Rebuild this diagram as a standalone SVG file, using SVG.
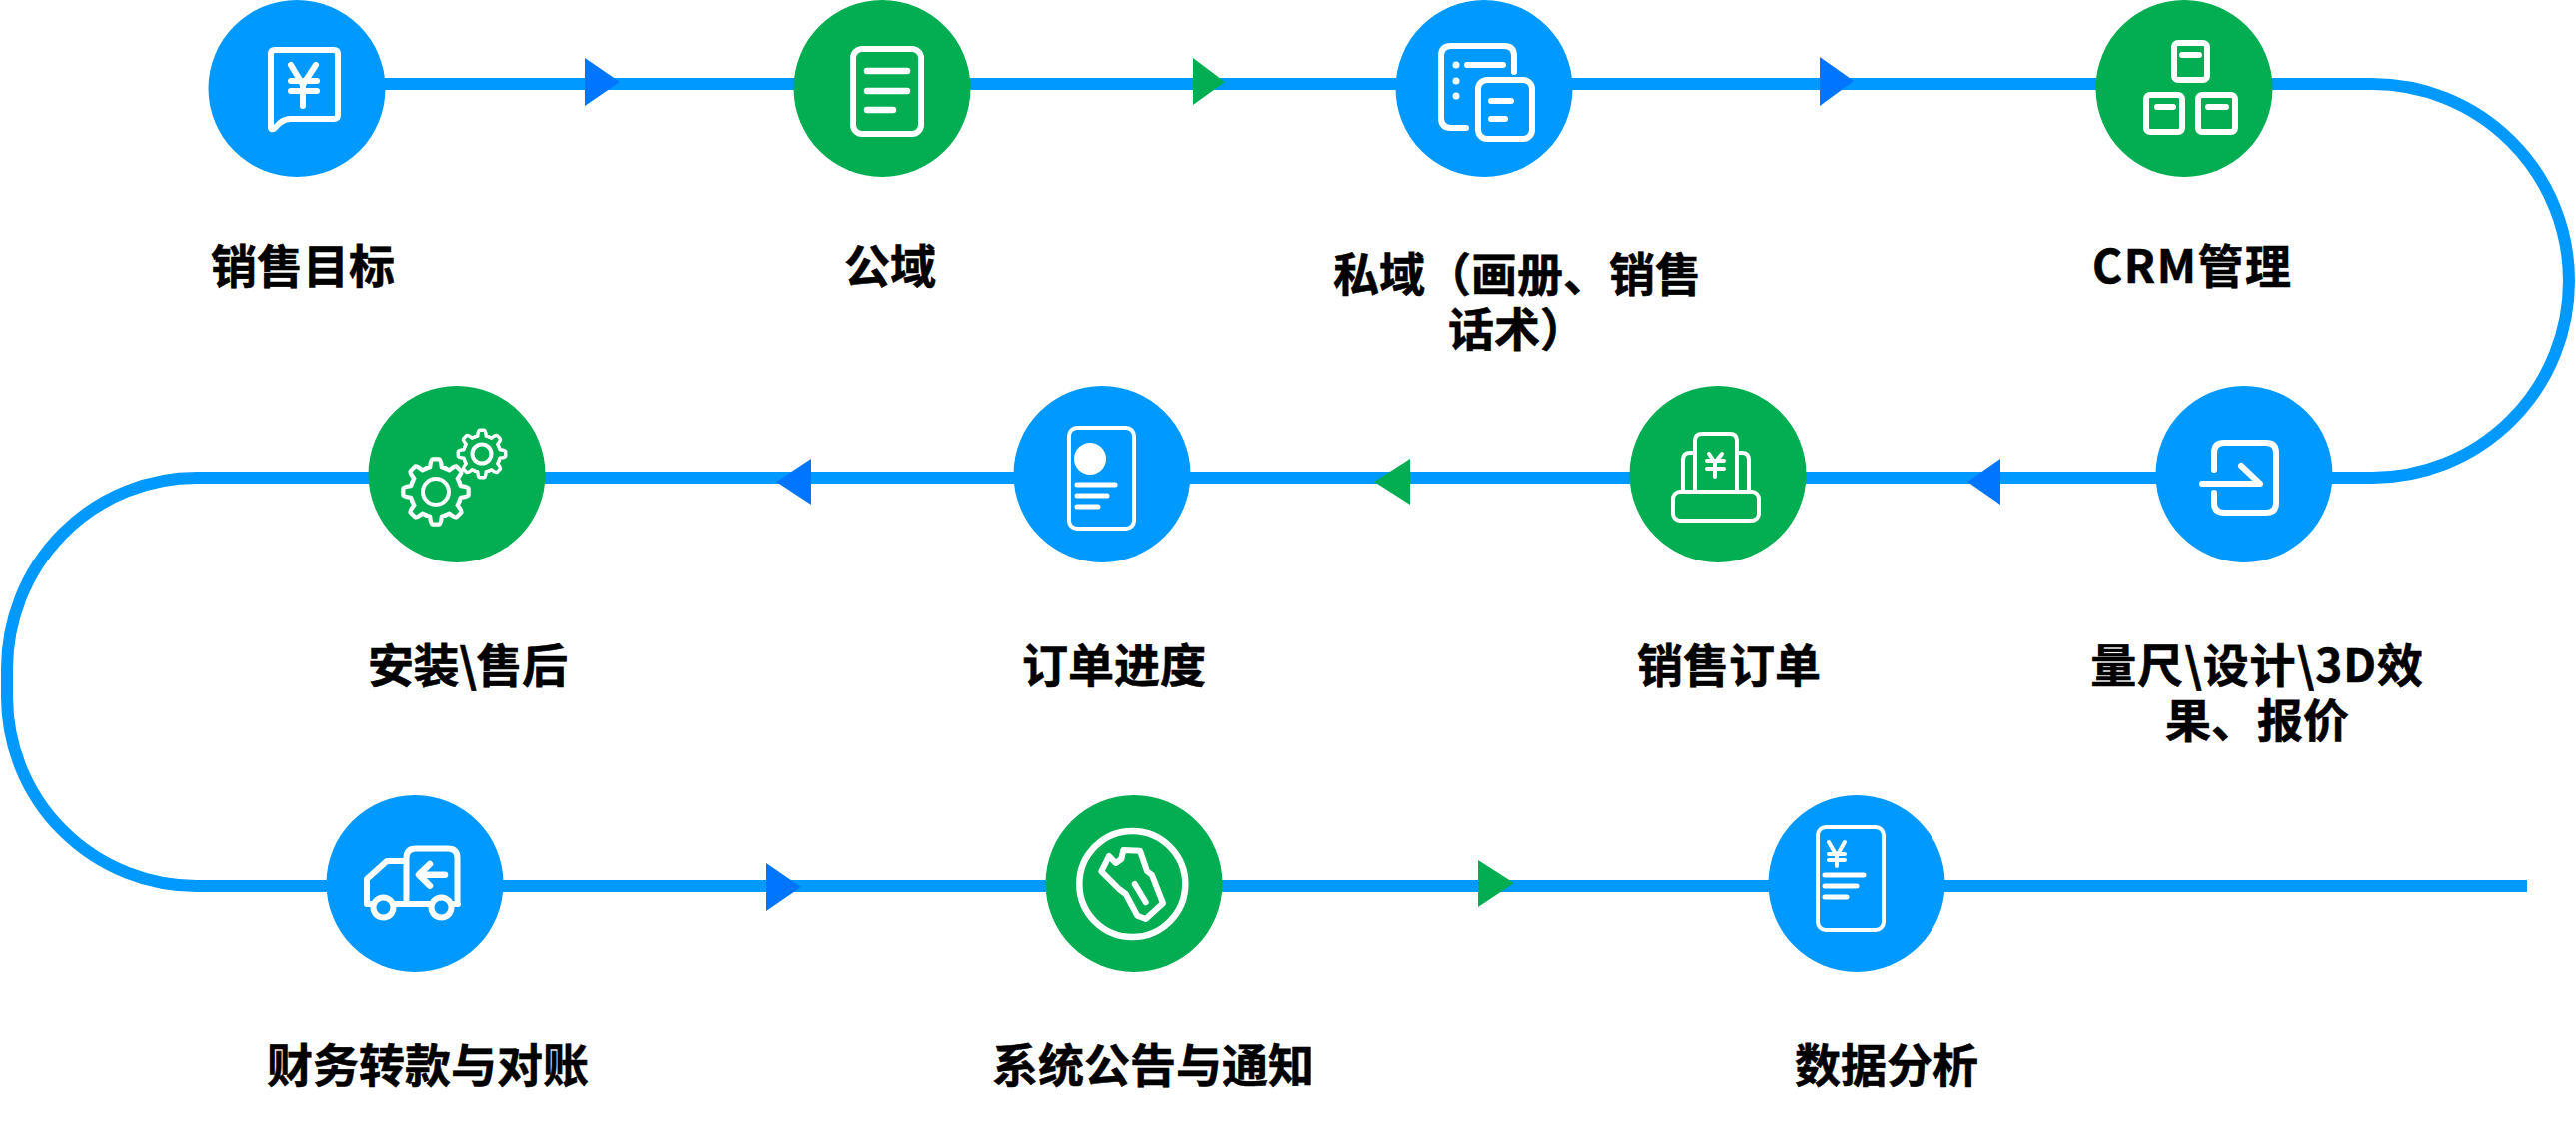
<svg xmlns="http://www.w3.org/2000/svg" xmlns:xlink="http://www.w3.org/1999/xlink" width="2578" height="1122" viewBox="0 0 2578 1122">
<style>
.b{fill:#0099ff}.g{fill:#03ae52}
.ab{fill:#0075ff}.ag{fill:#03ae52}
.w{fill:none;stroke:#fff;stroke-width:6;stroke-linecap:round;stroke-linejoin:round}
.wt{stroke-width:4}
.wf{fill:#fff;stroke:none}
.line{fill:none;stroke:#0099ff;stroke-width:12}
text{font-family:"Noto Sans CJK SC","Liberation Sans",sans-serif;font-weight:700;font-size:46px;fill:#000;stroke:#000;stroke-width:.6;text-anchor:middle}
</style>
<defs>
<path id="tooth" d="M-9.18 -22.17L-5.5 -23.4Q-4.8 -30.8 -3 -30.8H3Q4.8 -30.8 5.5 -23.4L9.18 -22.17"/>
<g id="gear">
<use xlink:href="#tooth"/><use xlink:href="#tooth" transform="rotate(45)"/><use xlink:href="#tooth" transform="rotate(90)"/><use xlink:href="#tooth" transform="rotate(135)"/><use xlink:href="#tooth" transform="rotate(180)"/><use xlink:href="#tooth" transform="rotate(225)"/><use xlink:href="#tooth" transform="rotate(270)"/><use xlink:href="#tooth" transform="rotate(315)"/>
</g>
</defs>
<g id="connectors">
<path class="line" d="M297 84H2374A197 197 0 0 1 2374 478H197A190 192 0 0 0 7 670V697A190 190 0 0 0 197 887H2529"/>
<polygon class="ab" points="585,58 620,82 585,106"/>
<polygon class="ag" points="1194,58 1226,82 1194,105"/>
<polygon class="ab" points="1821,57 1855,81 1821,106"/>
<polygon class="ab" points="2002,459 1969,482 2002,505"/>
<polygon class="ag" points="1411,459 1375,482 1411,505"/>
<polygon class="ab" points="812,459 777,482 812,505"/>
<polygon class="ab" points="767,864 802,888 767,912"/>
<polygon class="ag" points="1479,861 1515,884 1479,908"/>
</g>
<g id="node-1">
<circle class="b" cx="297" cy="88.500" r="88.500"/>
<path class="w" d="M271 127V54Q271 50 275 50H334Q338 50 338 54V115Q338 119 334 119H291Q285 119 280 123L275 128Q271 131 271 127Z"/>
<path class="w" d="M291 65L303 85L316 65M291 81H317M291 91H317M303 81V106"/>
<text x="303" y="283">销售目标</text>
</g>
<g id="node-2">
<circle class="g" cx="883" cy="88.500" r="88.500"/>
<rect class="w" x="854" y="49" width="68" height="85" rx="9"/>
<path class="w" style="stroke-width:6.500" d="M868 71H908M868 91H908M868 110H894"/>
<text x="891" y="283">公域</text>
</g>
<g id="node-3">
<circle class="b" cx="1485" cy="88.500" r="88.500"/>
<path class="w" d="M1515 72V56Q1515 46 1505 46H1452Q1442 46 1442 56V118Q1442 128 1452 128H1467"/>
<rect class="w" x="1479" y="80" width="54" height="59" rx="9"/>
<circle class="wf" cx="1457" cy="65" r="3.500"/><circle class="wf" cx="1457" cy="81" r="3.500"/><circle class="wf" cx="1457" cy="96" r="3.500"/>
<path class="w" d="M1468 65H1504M1492 101H1512M1492 119H1506"/>
<text><tspan x="1518" y="291">私域（画册、销售</tspan><tspan x="1518" y="346">话术）</tspan></text>
</g>
<g id="node-4">
<circle class="g" cx="2186" cy="88.500" r="88.500"/>
<rect class="w" x="2176" y="43" width="33" height="37" rx="4"/>
<rect class="w" x="2148" y="95" width="36" height="37" rx="4"/>
<rect class="w" x="2200" y="95" width="37" height="37" rx="4"/>
<path class="w" d="M2184 55H2201M2159 107H2175M2210 107H2228"/>
<text x="2193.500" y="283" textLength="199">CRM管理</text>
</g>
<g id="node-5">
<circle class="b" cx="2246" cy="474.500" r="88.500"/>
<path class="w" d="M2216 470V453Q2216 443 2226 443H2268Q2278 443 2278 453V503Q2278 513 2268 513H2226Q2216 513 2216 503V493"/>
<path class="w" d="M2204 484H2262L2243 466"/>
<text><tspan x="2259" y="683" style="letter-spacing:.9px">量尺\设计\3D效</tspan><tspan x="2259" y="738">果、报价</tspan></text>
</g>
<g id="node-6">
<circle class="g" cx="1719" cy="474.500" r="88.500"/>
<rect class="w wt" x="1674" y="492" width="86" height="29" rx="7"/>
<path class="w wt" d="M1696 492V441Q1696 434 1703 434H1731Q1738 434 1738 441V492M1696 453H1691Q1684 453 1684 460V492M1738 453H1743Q1750 453 1750 460V492"/>
<path class="w wt" d="M1710 454L1716 463L1723 454M1708 461H1725M1708 469H1725M1716 461V477"/>
<text x="1730" y="683">销售订单</text>
</g>
<g id="node-7">
<circle class="b" cx="1103" cy="474.500" r="88.500"/>
<rect class="w" style="stroke-width:4" x="1070" y="428" width="65" height="101" rx="8"/>
<circle class="wf" cx="1091" cy="459" r="16"/>
<path class="w" style="stroke-width:5" d="M1078 485H1116M1078 496H1108M1078 507H1099"/>
<text x="1115" y="683">订单进度</text>
</g>
<g id="node-8">
<circle class="g" cx="457" cy="474.500" r="88.500"/>
<use class="w wt" xlink:href="#gear" transform="translate(436 492) scale(1.060)"/>
<circle class="w wt" cx="436" cy="492" r="13"/>
<use class="w" style="stroke-width:4.500" xlink:href="#gear" transform="translate(482 454) scale(.770)"/>
<circle class="w wt" cx="482" cy="454" r="9.500"/>
<text x="468" y="683" textLength="200">安装\售后</text>
</g>
<g id="node-9">
<circle class="b" cx="415" cy="884.500" r="88.500"/>
<path class="w" d="M406.500 905V859Q406.500 849.500 416 849.500H448Q457.500 849.500 457.500 859V905M393 905H432M452 905H458M404 862H387L367 880V905H372"/>
<circle class="w" cx="383.500" cy="908.500" r="10"/><circle class="w" cx="441.500" cy="908.500" r="10"/>
<path class="w" style="stroke-width:6.500" d="M445 875.700H420M430 865L419 875.700L430 886.700"/>
<text x="428" y="1083">财务转款与对账</text>
</g>
<g id="node-10">
<circle class="g" cx="1135" cy="884.500" r="88.500"/>
<circle class="w" style="stroke-width:6.500" cx="1133.300" cy="885" r="53"/>
<path class="w" d="M1110 857L1102.300 872.300L1120 890L1126.700 895L1138.300 916.700L1146.700 920L1164 904.300L1153 876L1148 872L1141 851.700L1124.300 851L1122.300 860L1116.700 864ZM1135.700 885L1146.700 903.300"/>
<text x="1154" y="1083">系统公告与通知</text>
</g>
<g id="node-11">
<circle class="b" cx="1858" cy="884.500" r="88.500"/>
<rect class="w" style="stroke-width:4" x="1819" y="828" width="66" height="103" rx="8"/>
<path class="w wt" d="M1830 843L1838 857L1846 843M1830 855H1846M1830 861H1846M1838 855V867"/>
<path class="w" style="stroke-width:5" d="M1826 876H1865M1826 887H1858M1826 898H1848"/>
<text x="1888" y="1083">数据分析</text>
</g>
</svg>
